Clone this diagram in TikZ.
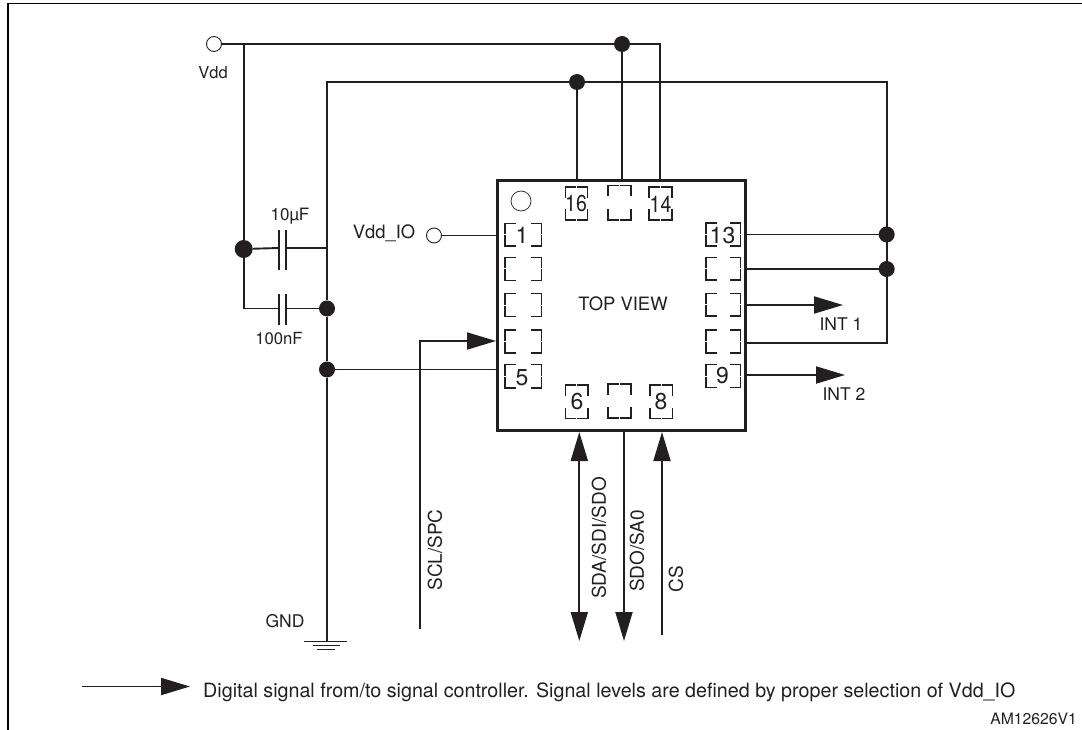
\documentclass[tikz,border=0pt]{standalone}
\usepackage{fontspec}
\setmainfont{TeX Gyre Heros}
\usetikzlibrary{arrows.meta}
\definecolor{ink}{HTML}{231F20}
\tikzset{
  wire/.style={draw=ink,line width=1.9pt},
  sig/.style={wire,-{Triangle[length=29pt,width=17pt,fill=ink]}},
  bisig/.style={wire,{Triangle[length=29pt,width=17pt,fill=ink]}-{Triangle[length=29pt,width=17pt,fill=ink]}},
  padline/.style={draw=ink,line width=1.5pt},
  dot/.style={circle,fill=ink,draw=none,minimum size=16pt,inner sep=0pt},
  term/.style={circle,draw=ink,fill=white,line width=0.9pt,minimum size=15pt,inner sep=0pt},
  lab/.style={font=\fontsize{17.5}{19}\selectfont,text=ink,inner sep=0pt},
  vlab/.style={lab,rotate=90,font=\fontsize{19}{21}\selectfont},
  num/.style={font=\fontsize{23}{25}\selectfont,text=ink,inner sep=0pt},
  plate/.style={draw=ink,line width=1.9pt}
}
% "[ ]" pad: x1 y1 x2 y2 (open at left/right of centre)
\newcommand{\padlr}[4]{%
  \draw[padline] ({#1+11},#2) -- (#1,#2) -- (#1,{(#2+#4)/2-0.5}) (#1,{(#2+#4)/2+0.5}) -- (#1,#4) -- ({#1+11},#4);
  \draw[padline] ({#3-11},#2) -- (#3,#2) -- (#3,{(#2+#4)/2-0.5}) (#3,{(#2+#4)/2+0.5}) -- (#3,#4) -- ({#3-11},#4);}
% pad open at top/bottom of centre
\newcommand{\padtb}[4]{%
  \draw[padline] (#1,{#2+11}) -- (#1,#2) -- ({(#1+#3)/2-0.5},#2) ({(#1+#3)/2+0.5},#2) -- (#3,#2) -- (#3,{#2+11});
  \draw[padline] (#1,{#4-11}) -- (#1,#4) -- ({(#1+#3)/2-0.5},#4) ({(#1+#3)/2+0.5},#4) -- (#3,#4) -- (#3,{#4-11});}
\begin{document}
\begin{tikzpicture}[x=1pt,y=-1pt]
\useasboundingbox (0,0) rectangle (1082,730);
% frame
\coordinate (fbl) at (8,730); \coordinate (ftl) at (8,3.5); \coordinate (ftr) at (1082,3.5);
\draw[draw=black,line width=1.8pt] (fbl) -- (ftl) -- (ftr);
% chip
\node[draw=ink,line width=3pt,outer sep=0pt,minimum width=248pt,minimum height=249pt,inner sep=0pt,anchor=north west] (chip) at (497,181) {};
\node[lab,font=\fontsize{18.4}{20}\selectfont] (topview) at (623,304) {TOP VIEW};
\node[circle,draw=ink,line width=0.7pt,minimum size=20pt,inner sep=0pt] (pin1mark) at (521,201) {};
% pads
\padlr{505}{223.5}{541.5}{246}
\padlr{505}{257.5}{541.5}{280.5}
\padlr{505}{293.5}{541.5}{316.5}
\padlr{505}{330}{541.5}{353}
\padlr{505}{364.5}{541.5}{388}
\padlr{706}{223}{740.5}{246}
\padlr{706}{257.5}{740.5}{280}
\padlr{706}{293.5}{740.5}{316}
\padlr{706}{330}{740.5}{353}
\padlr{706}{364.5}{740.5}{387.5}
\padtb{565.5}{187}{587.5}{220}
\padtb{608}{185.5}{631}{220}
\padtb{649}{187}{672}{220}
\padtb{565.5}{385}{588}{418.5}
\padtb{608}{384}{631}{418}
\padtb{650}{385}{672.5}{418.5}
\node[num] (n1) at (522,235.5) {1};
\node[num] (n5) at (522,378) {5};
\node[num] (n13) at (722.5,235.5) {13};
\node[num] (n9) at (722.5,376) {9};
\node[num,xscale=0.85] (n16) at (576,204) {16};
\node[num,xscale=0.85] (n14) at (660.5,204) {14};
\node[num] (n6) at (577,402) {6};
\node[num] (n8) at (661,402) {8};
% terminals and junctions
\node[term] (vdd) at (214,44) {};
\node[term] (vddio) at (434,235.5) {};
\node[dot,minimum height=18pt,minimum width=16pt] (j1) at (243.7,249) {};
\node[dot] (j2) at (327,308.5) {};
\node[dot] (j3) at (327,369.5) {};
\node[dot] (j4) at (577,82) {};
\node[dot] (j5) at (622,44) {};
\node[dot] (j6) at (886.7,234.5) {};
\node[dot] (j7) at (886.7,269) {};
% named points
\coordinate (v1) at (243.7,44);
\coordinate (v2) at (243.7,308.5);
\coordinate (r1) at (327,82);
\coordinate (r2) at (886.7,82);
\coordinate (r3) at (886.7,343);
\coordinate (t14) at (660,44);
\coordinate (c10) at (327,248);
% plates
\coordinate (p1a) at (279,248); \coordinate (p1b) at (286,248);
\coordinate (p2a) at (279,308.5); \coordinate (p2b) at (286,308.5);
\draw[plate] (279,230) -- (279,270);
\draw[plate] (286,230) -- (286,270);
\draw[plate] (279,294) -- (279,325);
\draw[plate] (286,294) -- (286,325);
% wires
\draw[wire] (vdd.east) -- (t14) -- (660,181);
\draw[wire] (j5) -- (622,181);
\draw[wire] (j4) -- (577,181);
\draw[wire] (v1) -- (v2) -- (p2a);
\draw[wire] (p2b) -- (j2);
\draw[wire] (j1) -- (p1a);
\draw[wire] (p1b) -- (c10);
\coordinate (g0) at (327,641.5);
\draw[wire] (g0) -- (j3) -- (j2) -- (r1) -- (r2) -- (r3) -- (745,343);
\draw[wire] (j3) -- (497,369.5);
\draw[wire] (vddio) -- (497,235.5);
\draw[wire] (745,234.5) -- (j6);
\draw[wire] (745,269) -- (j7);
% ground
\draw[wire] (304,641.5) -- (347,641.5);
\draw[wire] (313,645.5) -- (340,645.5);
\draw[wire] (317,649.5) -- (335,649.5);
% signals
\coordinate (i1) at (843,305); \coordinate (i2) at (845,375);
\draw[sig] (745,305) -- (i1);
\draw[sig] (745,375) -- (i2);
\coordinate (s0) at (420,629); \coordinate (s1) at (420,341);
\draw[sig] (s0) -- (s1) -- (496,341);
\coordinate (a0) at (579.3,432); \coordinate (a1) at (579.3,641);
\draw[bisig] (a0) -- (a1);
\coordinate (o0) at (624,431); \coordinate (o1) at (624,641);
\draw[sig] (o0) -- (o1);
\coordinate (c0) at (662,635); \coordinate (c1) at (662,432);
\draw[sig] (c0) -- (c1);
\coordinate (l0) at (82,686.5); \coordinate (l1) at (190,686.5);
\draw[sig] (l0) -- (l1);
% labels
\node[lab,font=\fontsize{16.5}{18}\selectfont] (lvdd) at (213,73) {Vdd};
\node[lab,font=\fontsize{18.4}{20}\selectfont] (lvddio) at (384,233) {Vdd\_IO};
\node[lab,font=\fontsize{17}{19}\selectfont] (l10) at (290,216) {10µF};
\node[lab,font=\fontsize{16.7}{19}\selectfont] (l100) at (279,339) {100nF};
\node[lab] (lgnd) at (285,621) {GND};
\node[lab] (lint1) at (841,324) {INT 1};
\node[lab] (lint2) at (844,394) {INT 2};
\node[vlab] (lscl) at (435,550) {SCL/SPC};
\node[vlab] (lsda) at (599,538) {SDA/SDI/SDO};
\node[vlab] (lsdo) at (637,551) {SDO/SA0};
\node[vlab] (lcs) at (676,579.5) {CS};
\node[lab,anchor=base west,font=\fontsize{19.7}{22}\selectfont] (legend) at (203,697.5) {Digital signal from/to signal controller. Signal levels are defined by proper selection of Vdd\_IO};
\node[lab,anchor=base east,font=\fontsize{15.7}{17}\selectfont] (am) at (1077,724.5) {AM12626V1};
\end{tikzpicture}
\end{document}
